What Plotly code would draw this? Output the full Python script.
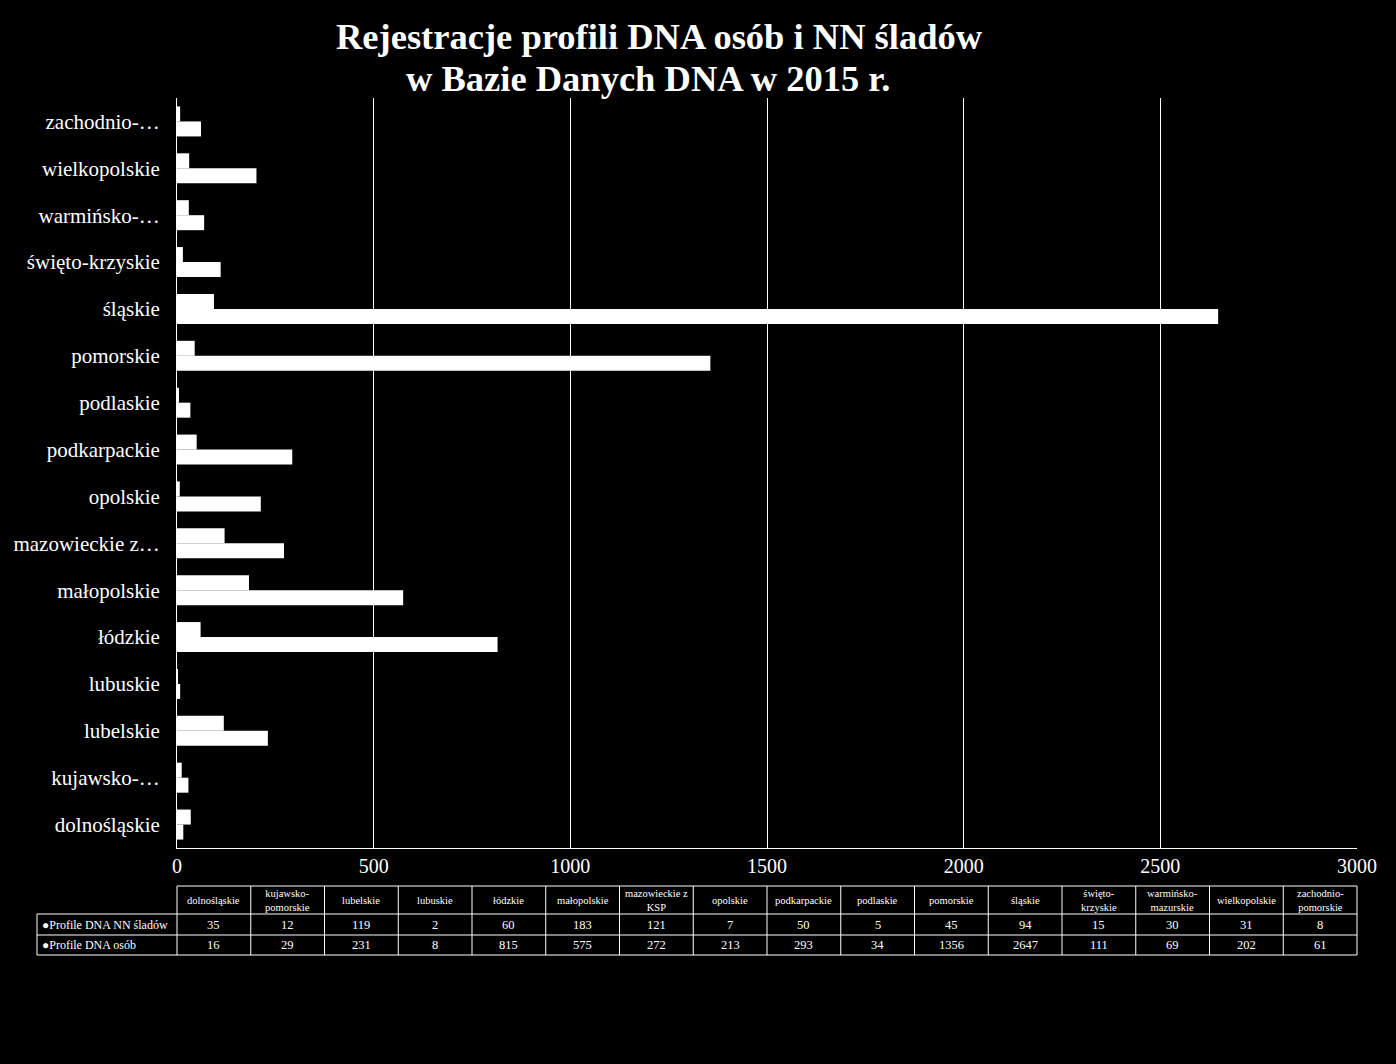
import plotly.graph_objects as go

regions = ["dolnośląskie", "kujawsko-pomorskie", "lubelskie", "lubuskie", "łódzkie",
           "małopolskie", "mazowieckie z KSP", "opolskie", "podkarpackie", "podlaskie",
           "pomorskie", "śląskie", "święto-krzyskie", "warmińsko-mazurskie",
           "wielkopolskie", "zachodnio-pomorskie"]
axis_labels = ["dolnośląskie", "kujawsko-…", "lubelskie", "lubuskie", "łódzkie",
               "małopolskie", "mazowieckie z…", "opolskie", "podkarpackie", "podlaskie",
               "pomorskie", "śląskie", "święto-krzyskie", "warmińsko-…",
               "wielkopolskie", "zachodnio-…"]
header_labels = ["dolnośląskie", "kujawsko-<br>pomorskie", "lubelskie", "lubuskie", "łódzkie",
                 "małopolskie", "mazowieckie z<br>KSP", "opolskie", "podkarpackie", "podlaskie",
                 "pomorskie", "śląskie", "święto-<br>krzyskie", "warmińsko-<br>mazurskie",
                 "wielkopolskie", "zachodnio-<br>pomorskie"]
series_names = ["Profile DNA NN śladów", "Profile DNA osób"]
nn_traces = [35, 12, 119, 2, 60, 183, 121, 7, 50, 5, 45, 94, 15, 30, 31, 8]
persons = [16, 29, 231, 8, 815, 575, 272, 213, 293, 34, 1356, 2647, 111, 69, 202, 61]
x_ticks = [0, 500, 1000, 1500, 2000, 2500, 3000]
title_lines = ["Rejestracje profili DNA osób i NN śladów", "w Bazie Danych DNA w 2015 r."]

W, H = 1396, 1064
FONT = "Liberation Serif"

fig = go.Figure()
fig.add_trace(go.Bar(y=regions, x=persons, orientation="h", name=series_names[1],
                     marker=dict(color="white", line=dict(width=0))))
fig.add_trace(go.Bar(y=regions, x=nn_traces, orientation="h", name=series_names[0],
                     marker=dict(color="white", line=dict(width=0))))

PX0, PX1 = 177, 1357  # plot area in pixels
fig.update_layout(
    width=W, height=H,
    paper_bgcolor="black", plot_bgcolor="black",
    margin=dict(l=0, r=0, t=0, b=0, autoexpand=False),
    barmode="group", bargap=0.36, bargroupgap=0,
    showlegend=False,
    font=dict(family=FONT, color="white"),
    xaxis=dict(domain=[PX0 / W, PX1 / W], range=[0, 3000], tickvals=x_ticks,
               showgrid=True, gridcolor="white", gridwidth=1, automargin=False,
               showline=True, linecolor="white", linewidth=1,
               zeroline=False, ticks="", tickfont=dict(family=FONT, size=20, color="white")),
    yaxis=dict(domain=[1 - 848 / H, 1 - 98 / H], tickvals=regions, ticktext=axis_labels,
               showgrid=False, showline=True, linecolor="white", linewidth=1, automargin=False,
               ticks="outside", ticklen=12, tickcolor="rgba(0,0,0,0)",
               tickfont=dict(family=FONT, size=21, color="white")),
)

# title (two lines)
for text, cx, cy in zip(title_lines, [659, 648], [36, 78]):
    fig.add_annotation(text="<b>" + text + "</b>", xref="paper", yref="paper",
                       x=cx / W, y=1 - cy / H, xanchor="center", yanchor="middle",
                       showarrow=False, font=dict(family=FONT, size=36.5, color="white"))

# data table under the chart, columns aligned with the x axis
LX = 37
col_w = (PX1 - PX0) / len(regions)
ROW_Y = [886, 914, 935, 955]  # header top, row1 top, row2 top, bottom
line_style = dict(color="white", width=1)

def px(x):
    return x / W

def py(y):
    return 1 - y / H

# horizontal lines
fig.add_shape(type="line", xref="paper", yref="paper", x0=px(PX0), x1=px(PX1),
              y0=py(ROW_Y[0]), y1=py(ROW_Y[0]), line=line_style)
for yy in ROW_Y[1:]:
    fig.add_shape(type="line", xref="paper", yref="paper", x0=px(LX), x1=px(PX1),
                  y0=py(yy), y1=py(yy), line=line_style)
# vertical lines
fig.add_shape(type="line", xref="paper", yref="paper", x0=px(LX), x1=px(LX),
              y0=py(ROW_Y[1]), y1=py(ROW_Y[3]), line=line_style)
for i in range(len(regions) + 1):
    xx = PX0 + i * col_w
    fig.add_shape(type="line", xref="paper", yref="paper", x0=px(xx), x1=px(xx),
                  y0=py(ROW_Y[0]), y1=py(ROW_Y[3]), line=line_style)

# header labels
for i, lab in enumerate(header_labels):
    cx = PX0 + (i + 0.5) * col_w
    fig.add_annotation(text=lab, xref="paper", yref="paper", x=px(cx),
                       y=py((ROW_Y[0] + ROW_Y[1]) / 2), xanchor="center", yanchor="middle",
                       showarrow=False, font=dict(family=FONT, size=10.5, color="white"))

# series rows
for r, (name, vals) in enumerate(zip(series_names, [nn_traces, persons])):
    cy = (ROW_Y[r + 1] + ROW_Y[r + 2]) / 2
    fig.add_annotation(text="●" + name, xref="paper", yref="paper", x=px(LX + 3),
                       y=py(cy), xanchor="left", yanchor="middle", showarrow=False,
                       font=dict(family=FONT, size=12, color="white"))
    for i, v in enumerate(vals):
        cx = PX0 + (i + 0.5) * col_w
        fig.add_annotation(text=str(v), xref="paper", yref="paper", x=px(cx), y=py(cy),
                           xanchor="center", yanchor="middle", showarrow=False,
                           font=dict(family=FONT, size=12.5, color="white"))

fig.write_html("out.html")
